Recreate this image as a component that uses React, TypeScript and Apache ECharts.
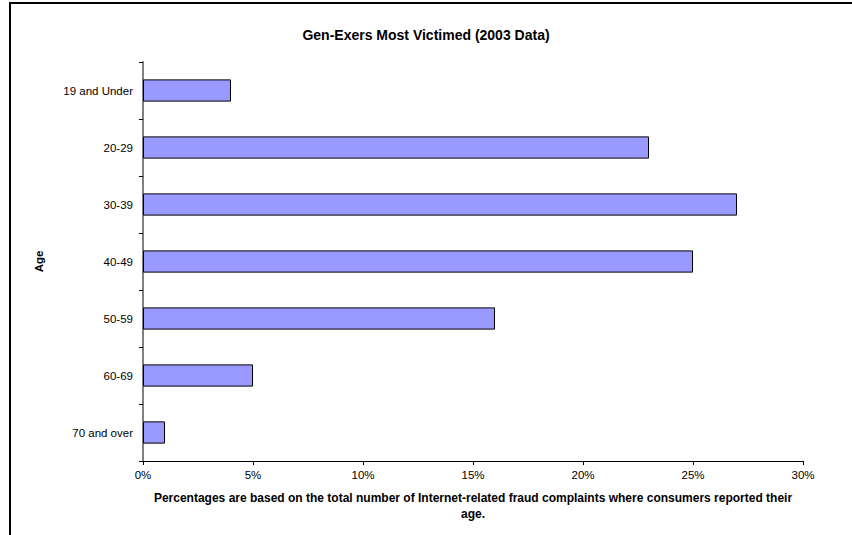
import React, { useEffect, useRef } from "react";
import * as echarts from "echarts";

const categories = ["19 and Under", "20-29", "30-39", "40-49", "50-59", "60-69", "70 and over"];
const values = [4, 23, 27, 25, 16, 5, 1];
const titleText = "Gen-Exers Most Victimed (2003 Data)";
const xAxisName = "Percentages are based on the total number of Internet-related fraud complaints where consumers reported their\nage.";
const yAxisName = "Age";

export default function App() {
  const ref = useRef<HTMLDivElement>(null);
  useEffect(() => {
    document.body.style.margin = "0";
    const chart = echarts.init(ref.current!, undefined, { renderer: "svg" });
    chart.setOption({
      animation: false,
      backgroundColor: "#fff",
      textStyle: { fontFamily: "Liberation Sans, Arial, sans-serif" },
      title: {
        text: titleText,
        left: "center",
        top: 23,
        textStyle: { fontSize: 14, fontWeight: "bold", color: "#000", fontFamily: "Liberation Sans, Arial, sans-serif" },
      },
      graphic: [
        {
          type: "rect",
          shape: { x: 10, y: 3, width: 900, height: 700 },
          style: { fill: "none", stroke: "#000", lineWidth: 2 },
          silent: true,
        },
      ],
      grid: { left: 143, right: 49, top: 62, bottom: 74, containLabel: false },
      xAxis: {
        type: "value",
        min: 0,
        max: 30,
        interval: 5,
        name: xAxisName,
        nameLocation: "middle",
        nameGap: 29,
        nameTextStyle: { fontSize: 12, fontWeight: "bold", color: "#000", lineHeight: 16 },
        axisLine: { show: true, lineStyle: { color: "#000", width: 1 } },
        axisTick: { show: true, length: 4, lineStyle: { color: "#000" } },
        axisLabel: { formatter: "{value}%", fontSize: 11.5, color: "#000", margin: 8 },
        splitLine: { show: false },
      },
      yAxis: {
        type: "category",
        data: categories,
        inverse: true,
        name: yAxisName,
        nameLocation: "middle",
        nameRotate: 90,
        nameGap: 98,
        nameTextStyle: { fontSize: 11.5, fontWeight: "bold", color: "#000" },
        axisLine: { show: true, lineStyle: { color: "#808080", width: 2 } },
        axisTick: { show: true, length: 4, inside: false, alignWithLabel: false, lineStyle: { color: "#000" } },
        axisLabel: { fontSize: 11.5, color: "#000", margin: 10 },
      },
      series: [
        {
          type: "bar",
          data: values,
          barWidth: "39%",
          itemStyle: { color: "#9999FF", borderColor: "#000", borderWidth: 1 },
        },
      ],
    });
    return () => chart.dispose();
  }, []);
  return <div ref={ref} style={{ width: 852, height: 535, position: "absolute", left: 0, top: 0 }} />;
}
